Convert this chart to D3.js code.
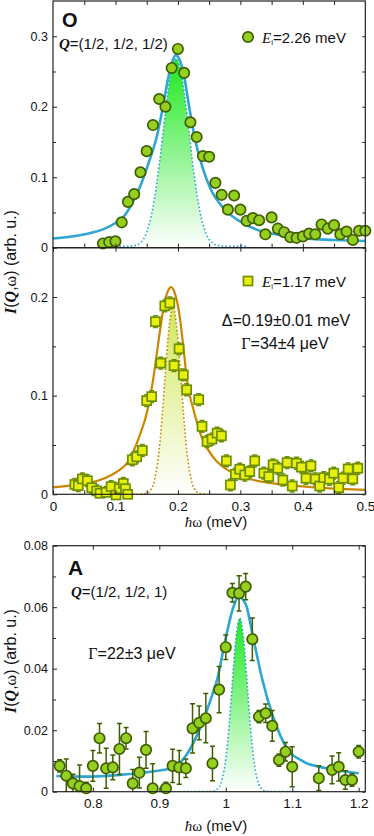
<!DOCTYPE html>
<html><head><meta charset="utf-8">
<script src="https://cdn.jsdelivr.net/npm/d3@7"></script>
<style>
body{margin:0;background:#fff}
svg{display:block}
text{font-family:"Liberation Sans",Arial,sans-serif;fill:#111}
.serif{font-family:"Liberation Serif","Times New Roman",serif}
</style>
</head><body>
<svg id="c" width="374" height="836"></svg>
<script>
// ---------------- DATA ----------------
// Panel O (top): Ei = 2.26 meV, Q=(1/2,1/2,1/2)
const topEnergy = [0.08,0.09,0.10,0.11,0.12,0.13,0.14,0.15,0.16,0.17,0.18,0.19,0.20,0.21,0.22,0.23,0.24,0.25,0.26,0.27,0.28,0.29,0.30,0.31,0.32,0.33,0.34,0.35,0.36,0.37,0.38,0.39,0.40,0.41,0.42,0.43,0.44,0.45,0.46,0.47,0.48,0.49,0.50];
const topIntensity = [0.006,0.008,0.009,0.036,0.065,0.076,0.107,0.137,0.174,0.211,0.200,0.255,0.282,0.248,0.178,0.157,0.130,0.129,0.092,0.075,0.054,0.074,0.054,0.038,0.042,0.039,0.019,0.043,0.027,0.022,0.015,0.014,0.016,0.020,0.019,0.033,0.027,0.032,0.019,0.023,0.011,0.024,0.024];
const topError = [0.004,0.004,0.006,0.004,0.004,0.004,0.004,0.004,0.004,0.004,0.004,0.004,0.004,0.004,0.004,0.004,0.004,0.004,0.004,0.004,0.004,0.004,0.004,0.004,0.004,0.004,0.004,0.004,0.004,0.004,0.004,0.004,0.004,0.004,0.004,0.004,0.004,0.004,0.004,0.004,0.004,0.005,0.005];
const topFitE = [0,0.03,0.06,0.08,0.1,0.115,0.125,0.14,0.153,0.166,0.176,0.185,0.19,0.196,0.202,0.21,0.218,0.226,0.239,0.252,0.273,0.3,0.325,0.35,0.375,0.4,0.45,0.5];
const topFitI = [0.013,0.016,0.021,0.026,0.035,0.046,0.06,0.088,0.12,0.157,0.2,0.243,0.261,0.273,0.268,0.243,0.2,0.16,0.115,0.084,0.056,0.037,0.026,0.02,0.016,0.013,0.011,0.0095];
const topPeakE = [0.10,0.12,0.13,0.14,0.15,0.16,0.17,0.18,0.19,0.197,0.205,0.215,0.225,0.235,0.245,0.255,0.265,0.28,0.31];
const topPeakI = [0.002,0.002,0.003,0.007,0.022,0.057,0.117,0.193,0.254,0.268,0.249,0.186,0.110,0.052,0.020,0.007,0.003,0.002,0.002];

// Middle: Ei = 1.17 meV
const midEnergy = [0.035,0.0405,0.047,0.055,0.062,0.070,0.0753,0.085,0.093,0.101,0.106,0.1126,0.116,0.1196,0.127,0.134,0.143,0.150,0.158,0.164,0.1725,0.179,0.187,0.1938,0.2018,0.2087,0.214,0.2333,0.2386,0.2466,0.2546,0.2627,0.2696,0.2776,0.284,0.292,0.299,0.307,0.315,0.323,0.3375,0.3455,0.3523,0.36,0.368,0.3748,0.383,0.3897,0.3977,0.405,0.413,0.420,0.427,0.4335,0.4425,0.4495,0.4575,0.4644,0.4725,0.48,0.488];
const midIntensity = [0.010,0.0088,0.0156,0.0138,0.0067,0.0034,0.001,0.002,0.0078,-0.0007,0.0057,0.011,0.0057,0.0,0.035,0.038,0.0444,0.095,0.099,0.175,0.133,0.191,0.194,0.1305,0.1475,0.121,0.106,0.096,0.0688,0.0535,0.056,0.062,0.0593,0.0339,0.0095,0.0203,0.0254,0.0196,0.023,0.0339,0.0214,0.018,0.0298,0.0264,0.0145,0.0321,0.0084,0.0315,0.0275,0.0163,0.0288,0.0156,0.0084,0.0169,0.0153,0.0214,0.0067,0.0163,0.0257,0.0156,0.0264];
const midError = midEnergy.map(() => 0.006);
const midFitE = [0,0.04,0.075,0.1,0.12,0.139,0.15,0.16,0.17,0.178,0.184,0.189,0.195,0.202,0.209,0.2146,0.2253,0.2386,0.2573,0.284,0.321,0.375,0.43,0.5];
const midFitI = [0.007,0.01,0.0145,0.022,0.033,0.06,0.082,0.115,0.16,0.193,0.206,0.21,0.204,0.184,0.148,0.115,0.085,0.057,0.037,0.023,0.0145,0.0095,0.0065,0.0045];
const midPeakE = [0.128,0.15,0.16,0.165,0.17,0.175,0.18,0.185,0.192,0.199,0.204,0.209,0.214,0.219,0.224,0.234,0.249];
const midPeakI = [0,0.001,0.009,0.022,0.045,0.081,0.124,0.164,0.19,0.164,0.124,0.081,0.045,0.022,0.009,0.001,0];

// Panel A (bottom): Q=(1/2,1/2,1)
const botEnergy = [0.75,0.76,0.77,0.78,0.79,0.80,0.81,0.82,0.83,0.84,0.85,0.86,0.87,0.88,0.89,0.91,0.92,0.93,0.94,0.95,0.96,0.97,0.98,0.99,1.00,1.01,1.02,1.03,1.04,1.05,1.06,1.07,1.08,1.09,1.10,1.14,1.16,1.17,1.18,1.19,1.20];
const botIntensity = [0.0084,0.0052,0.0027,0.0018,0.0011,0.0084,0.0174,0.0076,0.0079,0.0139,0.0174,0.0027,0.0062,0.0136,0.0011,0.0011,0.0084,0.0079,0.0076,0.0206,0.0224,0.0239,0.0092,0.0332,0.047,0.0647,0.0645,0.0667,0.0496,0.0244,0.0255,0.0214,0.0103,0.013,0.0081,0.0044,0.0071,0.0081,0.0038,0.0038,0.013];
const botError = [0.002,0.0054,0.003,0.0069,0.002,0.005,0.0048,0.0065,0.004,0.0083,0.0035,0.0045,0.005,0.006,0.008,0.002,0.0054,0.0055,0.003,0.008,0.0055,0.008,0.0056,0.0075,0.004,0.003,0.0057,0.0043,0.0069,0.002,0.003,0.005,0.002,0.003,0.0065,0.004,0.0045,0.0046,0.003,0.002,0.002];
const botFitE = [0.745,0.785,0.836,0.886,0.921,0.941,0.962,0.982,0.9868,0.9993,1.01,1.0194,1.03,1.042,1.0545,1.072,1.092,1.117,1.152,1.2];
const botFitI = [0.0051,0.0049,0.0054,0.0065,0.0079,0.012,0.021,0.033,0.0363,0.0493,0.059,0.0634,0.061,0.0493,0.0369,0.0239,0.0141,0.0098,0.0076,0.006];
const botPeakE = [0.93,0.98,0.99,0.995,1.0,1.005,1.01,1.015,1.021,1.027,1.032,1.037,1.042,1.047,1.052,1.062,1.12];
const botPeakI = [0,0.0001,0.0015,0.0044,0.0106,0.0215,0.0357,0.0493,0.0565,0.0493,0.0357,0.0215,0.0106,0.0044,0.0015,0.0001,0];

const midTickLabels = ["0","0.1","0.2","0.3","0.4","0.5"];
const botTickLabels = ["0.8","0.9","1","1.1","1.2"];

// ---------------- DRAW ----------------
const svg = d3.select("#c");
const L = 53, R = 365.3;
const defs = svg.append("defs");
function grad(id, c0, c1){
  const g = defs.append("linearGradient").attr("id", id).attr("x1",0).attr("y1",0).attr("x2",0).attr("y2",1);
  g.append("stop").attr("offset","0%").attr("stop-color",c0);
  g.append("stop").attr("offset","100%").attr("stop-color",c1);
}
grad("gGreen","#1fe81f","#ffffff");
grad("gYellow","#cfe85a","#ffffff");

const C_BLUE = "#2ea6d3", C_ORANGE = "#cc8500";
const C_CIRC_F = "#95cf1f", C_CIRC_S = "#3e5e00";
const C_SQ_F = "#e9ef0e", C_SQ_S = "#6e8f00";
const RC = 5.2, SQ = 9;

function panel(o){
  const x = d3.scaleLinear().domain(o.xd).range([L, R]);
  const y = d3.scaleLinear().domain(o.yd).range([o.y1, o.y0]);
  const g = svg.append("g");
  const cid = "clip" + o.id;
  defs.append("clipPath").attr("id", cid).append("rect")
    .attr("x", L).attr("y", o.y0).attr("width", R - L).attr("height", o.y1 - o.y0);
  const pl = g.append("g").attr("clip-path", `url(#${cid})`);

  const pk = o.peakE.map((e,i)=>[e,o.peakI[i]]);
  pl.append("path").datum(pk)
    .attr("d", d3.area().x(d=>x(d[0])).y0(y(0)).y1(d=>y(d[1])).curve(d3.curveMonotoneX))
    .attr("fill", o.peakFill);
  pl.append("path").datum(pk)
    .attr("d", d3.line().x(d=>x(d[0])).y(d=>y(d[1])).curve(d3.curveMonotoneX))
    .attr("fill","none").attr("stroke", o.fitColor).attr("stroke-width",1.6)
    .attr("stroke-dasharray","1.6,2.2");

  const ft = o.fitE.map((e,i)=>[e,o.fitI[i]]);
  pl.append("path").datum(ft)
    .attr("d", d3.line().x(d=>x(d[0])).y(d=>y(d[1])).curve(d3.curveMonotoneX))
    .attr("fill","none").attr("stroke", o.fitColor).attr("stroke-width", o.fitW);

  const pts = o.E.map((e,i)=>({e, v:o.I[i], s:o.err[i]}));
  const eb = pl.append("g").attr("stroke", o.mS).attr("stroke-width",1.5).attr("fill","none");
  pts.forEach(p=>{
    const cx = x(p.e), ya = y(p.v + p.s), yb = y(p.v - p.s);
    eb.append("line").attr("x1",cx).attr("x2",cx).attr("y1",ya).attr("y2",yb);
    eb.append("line").attr("x1",cx-2.5).attr("x2",cx+2.5).attr("y1",ya).attr("y2",ya);
    eb.append("line").attr("x1",cx-2.5).attr("x2",cx+2.5).attr("y1",yb).attr("y2",yb);
  });
  if (o.marker === "circle") {
    g.append("g").selectAll("circle").data(pts).join("circle")
      .attr("cx", d=>x(d.e)).attr("cy", d=>y(d.v)).attr("r", RC)
      .attr("fill", o.mF).attr("stroke", o.mS).attr("stroke-width", 1.7);
  } else {
    g.append("g").selectAll("rect").data(pts).join("rect")
      .attr("x", d=>x(d.e)-SQ/2).attr("y", d=>y(d.v)-SQ/2).attr("width",SQ).attr("height",SQ)
      .attr("fill", o.mF).attr("stroke", o.mS).attr("stroke-width", 1.7);
  }

  const ax = svg.append("g");
  function styleAxis(sel){
    sel.select(".domain").remove();
    sel.selectAll(".tick line").attr("stroke","#222").attr("stroke-width",1);
    sel.selectAll("text").attr("fill","#111").style("font-family","'Liberation Sans',Arial,sans-serif");
  }
  const yl = ax.append("g").attr("transform",`translate(${L},0)`)
    .call(d3.axisLeft(y).tickValues(o.yMajor).tickSize(-4).tickPadding(5).tickFormat(o.yFmt));
  styleAxis(yl); yl.selectAll("text").attr("font-size","12.5px");
  const ylm = ax.append("g").attr("transform",`translate(${L},0)`)
    .call(d3.axisLeft(y).tickValues(o.yMinor).tickSize(-3).tickFormat(""));
  styleAxis(ylm);
  const yr = ax.append("g").attr("transform",`translate(${R},0)`)
    .call(d3.axisRight(y).tickValues(o.yMajor.concat(o.yMinor)).tickSize(-3).tickFormat(""));
  styleAxis(yr);
  const xb = ax.append("g").attr("transform",`translate(0,${o.y1})`)
    .call(d3.axisBottom(x).tickValues(o.xTicks).tickSize(-4).tickPadding(7)
      .tickFormat((d,i)=> o.xLabels ? o.xLabels[i] : ""));
  styleAxis(xb); xb.selectAll("text").attr("font-size","13.5px");
  const xt = ax.append("g").attr("transform",`translate(0,${o.y0})`)
    .call(d3.axisTop(x).tickValues(o.xTicks).tickSize(-4).tickFormat(""));
  styleAxis(xt);

  svg.append("rect").attr("x",L).attr("y",o.y0).attr("width",R-L).attr("height",o.y1-o.y0)
    .attr("fill","none").attr("stroke","#222").attr("stroke-width",1.2);
  return {x, y};
}

const fmt1 = d => d === 0 ? "0" : d3.format(".1f")(d);
const fmt2 = d => d === 0 ? "0" : d3.format(".2f")(d);

panel({id:"T", xd:[0,0.5], yd:[0,0.35], y0:1.0, y1:247.7,
  E:topEnergy, I:topIntensity, err:topError, fitE:topFitE, fitI:topFitI,
  peakE:topPeakE, peakI:topPeakI, peakFill:"url(#gGreen)", fitColor:C_BLUE, fitW:2.6,
  marker:"circle", mF:C_CIRC_F, mS:C_CIRC_S,
  yMajor:[0,0.1,0.2,0.3], yMinor:[0.05,0.15,0.25], yFmt:fmt1,
  xTicks:[0.05,0.1,0.15,0.2,0.25,0.3,0.35,0.4,0.45], xLabels:null});

panel({id:"M", xd:[0,0.5], yd:[0,0.25], y0:247.7, y1:494.3,
  E:midEnergy, I:midIntensity, err:midError, fitE:midFitE, fitI:midFitI,
  peakE:midPeakE, peakI:midPeakI, peakFill:"url(#gYellow)", fitColor:C_ORANGE, fitW:2.2,
  marker:"square", mF:C_SQ_F, mS:C_SQ_S,
  yMajor:[0,0.1,0.2], yMinor:[0.05,0.15], yFmt:fmt1,
  xTicks:[0,0.1,0.2,0.3,0.4,0.5], xLabels:midTickLabels});

(function(){
  const x = d3.scaleLinear().domain([0,0.5]).range([L,R]);
  const mt = [0.05,0.15,0.25,0.35,0.45];
  const g1 = svg.append("g").attr("transform","translate(0,494.3)")
    .call(d3.axisBottom(x).tickValues(mt).tickSize(-4).tickFormat(""));
  g1.select(".domain").remove(); g1.selectAll(".tick line").attr("stroke","#222");
})();

panel({id:"B", xd:[0.74,1.21], yd:[0,0.08], y0:545.7, y1:791.7,
  E:botEnergy, I:botIntensity, err:botError, fitE:botFitE, fitI:botFitI,
  peakE:botPeakE, peakI:botPeakI, peakFill:"url(#gGreen)", fitColor:C_BLUE, fitW:2.6,
  marker:"circle", mF:C_CIRC_F, mS:C_CIRC_S,
  yMajor:[0,0.02,0.04,0.06,0.08], yMinor:[0.01,0.03,0.05,0.07], yFmt:fmt2,
  xTicks:[0.8,0.9,1.0,1.1,1.2], xLabels:botTickLabels});

// ---------------- TEXT ----------------
svg.append("text").attr("x",62).attr("y",27).attr("font-size","20px").attr("font-weight","bold").text("O");
const q1 = svg.append("text").attr("x",59).attr("y",49).attr("font-size","15px");
q1.append("tspan").attr("class","serif").attr("font-weight","bold").attr("font-style","italic").text("Q");
q1.append("tspan").text("=(1/2, 1/2, 1/2)");

svg.append("circle").attr("cx",248).attr("cy",37).attr("r",RC).attr("fill",C_CIRC_F).attr("stroke",C_CIRC_S).attr("stroke-width",1.7);
const l1 = svg.append("text").attr("x",262).attr("y",42.5).attr("font-size","15px");
l1.append("tspan").attr("class","serif").attr("font-style","italic").text("E");
l1.append("tspan").attr("font-size","8px").attr("dy",2).text("i");
l1.append("tspan").attr("dy",-2).text("=2.26 meV");

svg.append("rect").attr("x",248-SQ/2).attr("y",281-SQ/2).attr("width",SQ).attr("height",SQ).attr("fill",C_SQ_F).attr("stroke",C_SQ_S).attr("stroke-width",1.7);
const l2 = svg.append("text").attr("x",262).attr("y",286.5).attr("font-size","15px");
l2.append("tspan").attr("class","serif").attr("font-style","italic").text("E");
l2.append("tspan").attr("font-size","8px").attr("dy",2).text("i");
l2.append("tspan").attr("dy",-2).text("=1.17 meV");

svg.append("text").attr("x",286).attr("y",326).attr("text-anchor","middle").attr("font-size","16px")
  .text("Δ=0.19±0.01 meV");
const g2 = svg.append("text").attr("x",285).attr("y",349).attr("text-anchor","middle").attr("font-size","16px");
g2.append("tspan").attr("class","serif").text("Γ");
g2.append("tspan").text("=34±4 μeV");

svg.append("text").attr("x",68).attr("y",575).attr("font-size","21px").attr("font-weight","bold").text("A");
const q2 = svg.append("text").attr("x",71).attr("y",596.5).attr("font-size","15px");
q2.append("tspan").attr("class","serif").attr("font-weight","bold").attr("font-style","italic").text("Q");
q2.append("tspan").text("=(1/2, 1/2, 1)");
const g3 = svg.append("text").attr("x",132).attr("y",659).attr("text-anchor","middle").attr("font-size","16px");
g3.append("tspan").attr("class","serif").text("Γ");
g3.append("tspan").text("=22±3 μeV");

function yTitle(cy){
  const t = svg.append("text").attr("transform",`translate(16,${cy}) rotate(-90)`)
    .attr("text-anchor","middle").attr("font-size","16px");
  t.append("tspan").attr("class","serif").attr("font-weight","bold").attr("font-style","italic").text("I");
  t.append("tspan").text("(");
  t.append("tspan").attr("class","serif").attr("font-weight","bold").attr("font-style","italic").text("Q");
  t.append("tspan").text(",");
  t.append("tspan").attr("class","serif").text("ω");
  t.append("tspan").text(") (arb. u.)");
}
yTitle(262);
yTitle(661);
function xTitle(yb){
  const t = svg.append("text").attr("x",216).attr("y",yb).attr("text-anchor","middle").attr("font-size","15px");
  t.append("tspan").attr("class","serif").attr("font-style","italic").text("ħ");
  t.append("tspan").attr("class","serif").text("ω");
  t.append("tspan").text(" (meV)");
}
xTitle(527);
xTitle(831);
</script>
</body></html>
